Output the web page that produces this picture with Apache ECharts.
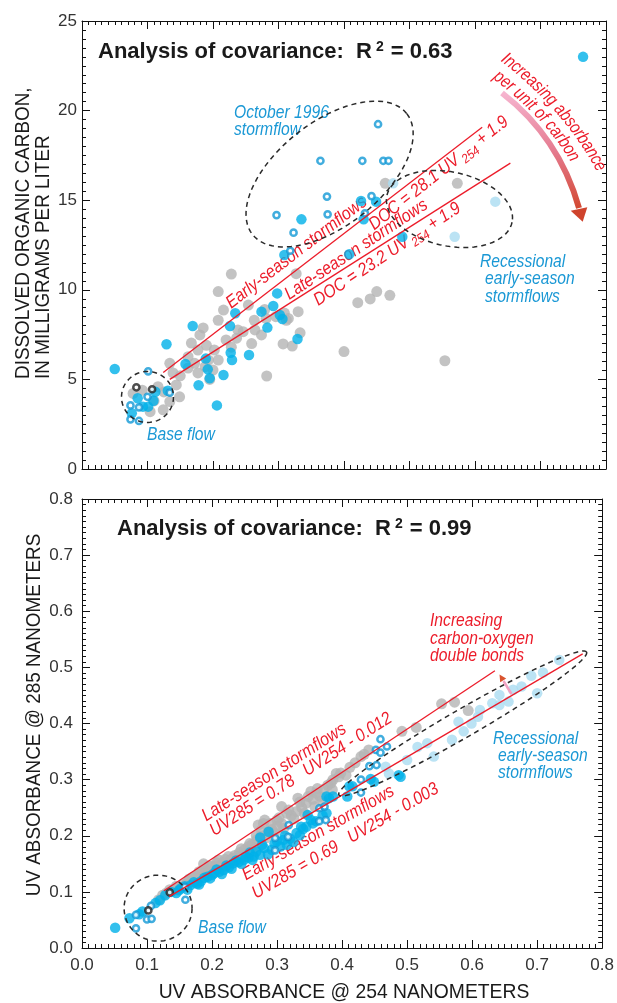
<!DOCTYPE html>
<html><head><meta charset="utf-8">
<script src="https://cdn.jsdelivr.net/npm/echarts@6.0.0/dist/echarts.min.js"></script>
<style>html,body{margin:0;padding:0;background:#fff;}#chart{width:617px;height:1003px;}</style>
</head><body><div id="chart"></div>
<script>
// ---------------- DATA ----------------
const uvTickLabels = ['0.0','0.1','0.2','0.3','0.4','0.5','0.6','0.7','0.8'];
const docTickLabels = ['0','5','10','15','20','25'];

// Top panel: [UV254, DOC mg/L]
const docLateSeason = [
 [0.228,10.88],[0.208,9.9],[0.327,10.9],[0.254,9.15],[0.216,8.87],[0.208,8.3],[0.238,7.76],[0.263,8.3],
 [0.279,8.9],[0.264,7.76],[0.236,7.3],[0.259,7.0],[0.309,8.7],[0.315,8.4],[0.33,8.78],[0.333,7.6],
 [0.307,6.98],[0.321,6.86],[0.282,5.19],[0.185,7.87],[0.167,7.03],[0.18,7.48],[0.177,6.64],[0.202,6.64],
 [0.208,6.08],[0.193,6.08],[0.172,5.9],[0.162,6.27],[0.162,5.63],[0.177,5.36],[0.188,5.71],[0.2,5.52],
 [0.134,5.9],[0.139,5.36],[0.144,4.69],[0.149,4.03],[0.134,3.76],[0.124,3.3],[0.104,3.2],[0.116,4.59],
 [0.078,4.22],[0.228,6.8],[0.246,7.66],[0.274,7.48],[0.281,8.4],[0.296,8.5],[0.312,8.3],[0.421,9.28],
 [0.44,9.49],[0.45,9.9],[0.47,9.69],[0.4,6.55],[0.554,6.04],[0.463,15.94],[0.573,15.94],[0.19,6.9],
 [0.22,7.2],[0.195,5.0],[0.15,5.2],[0.125,4.3],[0.092,4.4],[0.11,3.8]
];
const docEarlySeason = [
 [0.05,5.58],[0.129,6.96],[0.169,7.98],[0.158,5.86],[0.189,6.16],[0.192,5.56],[0.195,5.06],[0.178,4.67],
 [0.216,5.25],[0.206,3.55],[0.226,7.98],[0.234,8.69],[0.227,6.49],[0.229,6.08],[0.255,6.36],[0.274,8.78],
 [0.283,7.89],[0.292,9.1],[0.298,9.8],[0.302,8.59],[0.306,8.37],[0.329,7.25],[0.309,11.94],[0.085,3.95],
 [0.109,3.81],[0.112,4.31],[0.101,3.48],[0.076,3.11],[0.093,3.48],[0.131,4.37],[0.335,13.93],[0.426,14.96],
 [0.449,14.92],[0.43,13.93],[0.489,12.96],[0.408,11.98],[0.765,23.0]
];
const docOpenEarly = [
 [0.452,19.24],[0.364,17.2],[0.428,17.2],[0.46,17.2],[0.468,17.2],[0.374,15.2],[0.297,14.17],[0.375,14.21],
 [0.442,15.23],[0.432,14.27],[0.323,13.19],[0.318,12.18],[0.101,5.45],[0.134,4.26],[0.1,4.03],[0.074,3.55],
 [0.087,3.44],[0.074,2.77],[0.087,2.68]
];
const docRecessional = [[0.475,15.94],[0.631,14.92],[0.569,12.96]];
const docBaseBlack = [[0.083,4.56],[0.107,4.45]];
const docFitEarly = [[0.124,5.38],[0.611,19.07]];
const docFitLate = [[0.134,5.0],[0.654,17.07]];
const docEllipseCenters = [[0.378,16.46],[0.561,14.51],[0.100,4.02]];

// Bottom panel: [UV254, UV285]
const uvLateSeason = [
 [0.118,0.086],[0.124,0.094],[0.14,0.103],[0.147,0.106],[0.155,0.113],[0.163,0.12],[0.17,0.126],[0.179,0.132],
 [0.187,0.15],[0.185,0.138],[0.193,0.14],[0.2,0.146],[0.207,0.152],[0.213,0.148],[0.22,0.158],[0.228,0.157],
 [0.235,0.165],[0.242,0.17],[0.25,0.175],[0.256,0.181],[0.262,0.185],[0.269,0.193],[0.271,0.219],[0.279,0.222],
 [0.281,0.228],[0.275,0.199],[0.285,0.205],[0.292,0.211],[0.3,0.228],[0.3,0.217],[0.307,0.222],[0.307,0.252],
 [0.315,0.24],[0.322,0.236],[0.33,0.243],[0.332,0.267],[0.338,0.25],[0.345,0.258],[0.352,0.279],[0.355,0.265],
 [0.366,0.27],[0.372,0.283],[0.383,0.294],[0.386,0.3],[0.391,0.311],[0.406,0.308],[0.429,0.341],[0.441,0.353],
 [0.492,0.386],[0.514,0.393],[0.553,0.435],[0.573,0.438],[0.594,0.423],[0.36,0.276],[0.395,0.305],[0.42,0.33],
 [0.13,0.098],[0.135,0.104],[0.145,0.11],[0.16,0.113],[0.165,0.123],[0.175,0.127],[0.18,0.136],[0.19,0.134],
 [0.195,0.146],[0.205,0.145],[0.21,0.157],[0.218,0.152],[0.225,0.163],[0.232,0.16],[0.24,0.163],[0.245,0.177],
 [0.252,0.168],[0.258,0.186],[0.265,0.178],[0.268,0.2],[0.276,0.21],[0.283,0.196],[0.29,0.222],[0.296,0.205],
 [0.303,0.232],[0.31,0.213],[0.318,0.246],[0.326,0.23],[0.335,0.26],[0.342,0.24],[0.348,0.27],[0.358,0.252],
 [0.362,0.284],[0.37,0.262],[0.378,0.29],[0.385,0.282],[0.398,0.312],[0.412,0.322],[0.434,0.345]
];
const uvEarlySeason = [
 [0.051,0.036],[0.073,0.053],[0.093,0.065],[0.113,0.08],[0.128,0.094],[0.149,0.103],[0.167,0.112],[0.088,0.06],
 [0.12,0.085],[0.137,0.1],[0.152,0.106],[0.177,0.115],[0.183,0.119],[0.193,0.127],[0.203,0.133],[0.211,0.136],
 [0.218,0.139],[0.226,0.144],[0.233,0.151],[0.241,0.153],[0.249,0.157],[0.256,0.161],[0.264,0.163],[0.274,0.166],
 [0.286,0.167],[0.292,0.175],[0.277,0.184],[0.305,0.181],[0.315,0.184],[0.325,0.189],[0.335,0.201],[0.345,0.216],
 [0.355,0.222],[0.337,0.216],[0.347,0.237],[0.376,0.24],[0.274,0.197],[0.287,0.207],[0.38,0.267],[0.386,0.27],
 [0.408,0.27],[0.411,0.288],[0.416,0.288],[0.444,0.301],[0.449,0.296],[0.487,0.308],[0.49,0.305],[0.376,0.27],
 [0.197,0.124],[0.258,0.17],[0.3,0.19],[0.32,0.195],
 [0.145,0.098],[0.158,0.11],[0.162,0.104],[0.172,0.117],[0.18,0.113],[0.188,0.125],[0.2,0.13],[0.207,0.14],
 [0.215,0.132],[0.222,0.147],[0.23,0.141],[0.237,0.156],[0.245,0.15],[0.252,0.163],[0.262,0.157],[0.268,0.172],
 [0.28,0.178],[0.296,0.186],[0.31,0.193],[0.312,0.2],[0.33,0.205],[0.34,0.212],[0.352,0.228],[0.36,0.226],[0.37,0.236]
];
const uvOpenEarly = [
 [0.083,0.059],[0.083,0.035],[0.106,0.075],[0.1,0.051],[0.107,0.052],[0.158,0.109],[0.159,0.086],[0.297,0.196],
 [0.297,0.174],[0.317,0.198],[0.318,0.219],[0.365,0.249],[0.373,0.252],[0.365,0.226],[0.375,0.228],[0.429,0.3],
 [0.429,0.277],[0.442,0.324],[0.453,0.326],[0.452,0.353],[0.459,0.348],[0.459,0.372],[0.469,0.359]
];
const uvRecessional = [
 [0.734,0.513],[0.709,0.491],[0.691,0.485],[0.676,0.466],[0.663,0.46],[0.7,0.454],[0.656,0.439],[0.642,0.451],
 [0.642,0.433],[0.631,0.436],[0.612,0.424],[0.609,0.412],[0.599,0.4],[0.579,0.403],[0.587,0.386],[0.569,0.371],
 [0.531,0.365],[0.516,0.358],[0.541,0.341],[0.5,0.335],[0.467,0.323],[0.472,0.311]
];
const uvBaseBlack = [[0.102,0.067],[0.135,0.099]];
const uvFitLate = [[0.126,0.102],[0.635,0.494]];
const uvFitEarly = [[0.134,0.0915],[0.77,0.524]];
const uvEllipseCenters = [[0.117,0.071],[0.5855,0.40]];

// ---------------- STYLE ----------------
const RED = '#ec1c2a', BLUE = '#00b0e8', BLUE_OPEN = '#1298d6', LBLUE = '#aadcf1', GRAY = '#b4b4b4';
const BLUE_TXT = '#1a98d5';
const SANS = "'Liberation Sans', Arial, sans-serif";
const NARROW = "'Liberation Sans Narrow', 'Liberation Sans', sans-serif";
const docEllipseShapes = [{a:98,b:52,rot:38},{a:64,b:37,rot:-12},{a:26,b:25.5,rot:0}];
const uvEllipseShapes = [{a:34,b:33,rot:0},{a:143,b:14,rot:30}];

const chart = echarts.init(document.getElementById('chart'), null, {renderer:'canvas'});

function axis(extra){
  return Object.assign({
    type:'value', min:0, max:0.8, interval:0.1,
    axisLine:{show:true,onZero:false,lineStyle:{color:'#111',width:1}},
    axisTick:{show:true,inside:true,length:8,lineStyle:{color:'#111',width:1}},
    minorTick:{show:true,splitNumber:10,length:4,lineStyle:{color:'#111',width:1}},
    splitLine:{show:false}, minorSplitLine:{show:false},
    axisLabel:{show:false}
  }, extra);
}
const lab = (fmt, margin) => ({show:true, margin, fontSize:17, fontFamily:NARROW, color:'#333', formatter:fmt});

function ellipseRenderer(shapes){
  return function(params, api){
    const e = shapes[params.dataIndex];
    const c = api.coord([api.value(0), api.value(1)]);
    const t = e.rot*Math.PI/180, pts=[];
    for(let i=0;i<=90;i++){
      const a=i/90*2*Math.PI, u=e.a*Math.cos(a), v=e.b*Math.sin(a);
      pts.push([c[0]+u*Math.cos(t)+v*Math.sin(t), c[1]-u*Math.sin(t)+v*Math.cos(t)]);
    }
    return {type:'polyline', shape:{points:pts}, style:{stroke:'#2a2a2a',lineWidth:1.5,lineDash:[5,4],fill:null}};
  };
}
function scatter(data, xi, yi, kind, size){
  const s = {type:'scatter', data, xAxisIndex:xi, yAxisIndex:yi, symbol:'circle', animation:false, silent:true};
  if(kind==='gray'){ s.symbolSize=size; s.itemStyle={color:GRAY}; s.z=2; }
  if(kind==='blue'){ s.symbolSize=size; s.itemStyle={color:BLUE}; s.z=3; }
  if(kind==='lblue'){ s.symbolSize=size; s.itemStyle={color:LBLUE}; s.z=3; }
  if(kind==='open'){ s.symbolSize=6.2; s.itemStyle={color:'#fff',borderColor:BLUE_OPEN,borderWidth:2.5}; s.z=4; }
  if(kind==='black'){ s.symbolSize=6.2; s.itemStyle={color:'#fff',borderColor:'#222',borderWidth:2.5}; s.z=4; }
  return s;
}
function fit(data, xi, yi){
  return {type:'line', data, xAxisIndex:xi, yAxisIndex:yi, symbol:'none', lineStyle:{color:RED,width:1.3}, z:5, silent:true, animation:false};
}
function ellipses(centers, shapes, xi, yi){
  return {type:'custom', data:centers, xAxisIndex:xi, yAxisIndex:yi, renderItem:ellipseRenderer(shapes), z:6, silent:true, clip:false, encode:{x:0,y:1}};
}

// ---------- text helpers ----------
const mctx = document.createElement('canvas').getContext('2d');
function tw(text, font){ mctx.font = font; return mctx.measureText(text).width; }
function fsOf(font){ return parseFloat(font.match(/([\d.]+)px/)[1]); }
function runs(bx, by, deg, sx, parts, align){
  let x = 0; const children = [];
  parts.forEach(p => {
    const fs = fsOf(p.font);
    x += (p.gap||0);
    children.push({type:'text', x, y:(p.dy||0) - 0.35*fs, silent:true,
      style:{text:p.text, font:p.font, fill:p.color, align:'left', verticalAlign:'middle'}});
    x += tw(p.text, p.font);
  });
  if(align==='center'){ children.forEach(c => c.x -= x/2); }
  return {type:'group', x:bx, y:by, rotation:deg*Math.PI/180, scaleX:sx, scaleY:1, z:100, children};
}
function line1(bx, by, deg, sx, text, font, color, align){
  return runs(bx, by, deg, sx, [{text, font, color}], align);
}
function curved(S, C, E, text, font, color, sx){
  const N = 400, pts = [], cum = [0];
  for(let i=0;i<=N;i++){
    const t=i/N, a=(1-t)*(1-t), b=2*(1-t)*t, c=t*t;
    pts.push([a*S[0]+b*C[0]+c*E[0], a*S[1]+b*C[1]+c*E[1]]);
    if(i>0) cum.push(cum[i-1]+Math.hypot(pts[i][0]-pts[i-1][0], pts[i][1]-pts[i-1][1]));
  }
  function at(s){
    if(s >= cum[N]){ const p=pts[N], q=pts[N-1], ang=Math.atan2(p[1]-q[1],p[0]-q[0]), d=s-cum[N];
      return [p[0]+Math.cos(ang)*d, p[1]+Math.sin(ang)*d, ang]; }
    let i=1; while(cum[i] < s) i++;
    const f=(s-cum[i-1])/(cum[i]-cum[i-1]), p=pts[i-1], q=pts[i];
    return [p[0]+(q[0]-p[0])*f, p[1]+(q[1]-p[1])*f, Math.atan2(q[1]-p[1], q[0]-p[0])];
  }
  const chars=[...text], w0=tw(chars[0],font)*sx, out=[]; let acc=0;
  chars.forEach(ch => {
    const w=tw(ch,font)*sx, s=Math.max(0, acc + w/2 - w0/2); acc += w;
    if(ch===' ') return;
    const p=at(s);
    out.push({type:'text', x:p[0], y:p[1], rotation:-p[2], scaleX:sx, z:100, silent:true,
      style:{text:ch, font, fill:color, align:'center', verticalAlign:'middle'}});
  });
  return out;
}
const redIt = 'italic 18px ' + SANS, redSub = 'italic 13px ' + SANS;
const blueIt = 'italic 18px ' + SANS;
const titleF = 'bold 22px ' + SANS, titleSup = 'bold 14px ' + SANS;
const axisF = '21px ' + SANS;
const INK = '#1a1a1a';

const graphics = [
  runs(98, 60, 0, 1, [{text:'Analysis of covariance:  R',font:titleF,color:INK},{text:'2',font:titleSup,color:INK,gap:4,dy:-8},{text:' = 0.63',font:titleF,color:INK,gap:1}]),
  runs(117, 537, 0, 1, [{text:'Analysis of covariance:  R',font:titleF,color:INK},{text:'2',font:titleSup,color:INK,gap:4,dy:-8},{text:' = 0.99',font:titleF,color:INK,gap:1}]),
  line1(31, 379, 90, 0.9, 'DISSOLVED ORGANIC CARBON,', axisF, INK),
  line1(50.5, 379, 90, 0.9, 'IN MILLIGRAMS PER LITER', axisF, INK),
  line1(42, 715, 90, 0.9, 'UV ABSORBANCE @ 285 NANOMETERS', axisF, INK, 'center'),
  line1(344, 999.5, 0, 0.92, 'UV ABSORBANCE @ 254 NANOMETERS', axisF, INK, 'center'),
  line1(234, 119, 0, 0.87, 'October 1996', blueIt, BLUE_TXT),
  line1(234, 136, 0, 0.87, 'stormflow', blueIt, BLUE_TXT),
  line1(480, 268, 0, 0.87, 'Recessional', blueIt, BLUE_TXT),
  line1(485, 285.5, 0, 0.87, 'early-season', blueIt, BLUE_TXT),
  line1(485, 303, 0, 0.87, 'stormflows', blueIt, BLUE_TXT),
  line1(147, 441, 0, 0.87, 'Base flow', blueIt, BLUE_TXT),
  line1(232, 310, 37.5, 0.88, 'Early-season stormflows', redIt, RED),
  runs(375, 231.5, 38.3, 0.88, [{text:'DOC = 28.1 UV',font:redIt,color:RED},{text:'254',font:redSub,color:RED,gap:3,dy:4},{text:' + 1.9',font:redIt,color:RED}]),
  line1(290, 301, 33.5, 0.88, 'Late-season stormflows', redIt, RED),
  runs(319, 307, 33.5, 0.88, [{text:'DOC = 23.2 UV',font:redIt,color:RED},{text:'254',font:redSub,color:RED,gap:3,dy:4},{text:' + 1.9',font:redIt,color:RED}]),
  ...curved([505,58],[567,106.5],[599,165], 'Increasing absorbance', redIt, RED, 0.83),
  ...curved([499,77],[554,120],[577,163], 'per unit of carbon', redIt, RED, 0.84),
  {type:'bezierCurve', z:90, silent:true, shape:{x1:502,y1:93,cpx1:559,cpy1:137,x2:579,y2:208},
   style:{fill:null, lineWidth:6, stroke:new echarts.graphic.LinearGradient(0,0,0,1,[
     {offset:0,color:'#f7b8d3'},{offset:0.5,color:'#e57b90'},{offset:1,color:'#d2462d'}])}},
  {type:'polygon', z:91, silent:true, shape:{points:[[570.7,210.7],[587.3,207.3],[582.7,221.7]]}, style:{fill:'#cf432c'}},
  line1(430, 627, 0, 0.87, 'Increasing', redIt, RED),
  line1(430, 645.5, 0, 0.87, 'carbon-oxygen', redIt, RED),
  line1(430, 662, 0, 0.87, 'double bonds', redIt, RED),
  line1(493, 745, 0, 0.87, 'Recessional', blueIt, BLUE_TXT),
  line1(498, 762.5, 0, 0.87, 'early-season', blueIt, BLUE_TXT),
  line1(498, 779, 0, 0.87, 'stormflows', blueIt, BLUE_TXT),
  line1(198, 934, 0, 0.87, 'Base flow', blueIt, BLUE_TXT),
  line1(207, 822.7, 32.5, 0.88, 'Late-season stormflows', redIt, RED),
  line1(215, 837.3, 32.8, 0.88, 'UV285 = 0.78   UV254 - 0.012', redIt, RED),
  line1(246.7, 881.7, 30, 0.88, 'Early-season stormflows', redIt, RED),
  line1(256.7, 900, 30.2, 0.88, 'UV285 = 0.69   UV254 - 0.003', redIt, RED),
  {type:'line', z:90, silent:true, shape:{x1:511.5,y1:694,x2:503.5,y2:681}, style:{stroke:'#f2a3c4',lineWidth:2.5}},
  {type:'polygon', z:91, silent:true, shape:{points:[[499.5,674.5],[506.2,678.6],[500.2,682.3]]}, style:{fill:'#d9542f'}}
];

const option = {
  animation:false,
  backgroundColor:'#fff',
  grid:[
    {left:82, top:21, width:524, height:448, containLabel:false},
    {left:82, top:499, width:524, height:449, containLabel:false}
  ],
  xAxis:[
    axis({gridIndex:0, position:'bottom'}),
    axis({gridIndex:0, position:'top'}),
    axis({gridIndex:1, position:'bottom', axisLabel:lab(v=>uvTickLabels[Math.round(v*10)], 9)}),
    axis({gridIndex:1, position:'top'})
  ],
  yAxis:[
    axis({gridIndex:0, position:'left', min:0, max:25, interval:5, axisLabel:lab(v=>docTickLabels[Math.round(v/5)], 5)}),
    axis({gridIndex:0, position:'right', min:0, max:25, interval:5}),
    axis({gridIndex:1, position:'left', axisLabel:lab(v=>uvTickLabels[Math.round(v*10)], 9)}),
    axis({gridIndex:1, position:'right'})
  ],
  series:[
    scatter(docLateSeason,0,0,'gray',11),
    scatter(docEarlySeason,0,0,'blue',10.5),
    scatter(docRecessional,0,0,'lblue',10.5),
    scatter(docOpenEarly,0,0,'open'),
    scatter(docBaseBlack,0,0,'black'),
    fit(docFitEarly,0,0), fit(docFitLate,0,0),
    ellipses(docEllipseCenters, docEllipseShapes, 0, 0),
    scatter(uvLateSeason,2,2,'gray',11),
    scatter(uvEarlySeason,2,2,'blue',10.5),
    scatter(uvRecessional,2,2,'lblue',10.5),
    scatter(uvOpenEarly,2,2,'open'),
    scatter(uvBaseBlack,2,2,'black'),
    fit(uvFitLate,2,2), fit(uvFitEarly,2,2),
    ellipses(uvEllipseCenters, uvEllipseShapes, 2, 2)
  ],
  graphic:{elements:graphics}
};
chart.setOption(option);
</script></body></html>
